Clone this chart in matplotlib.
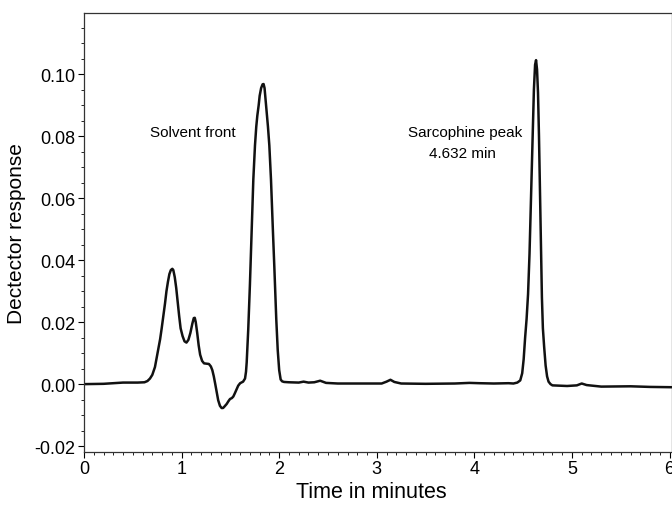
import matplotlib
matplotlib.use("Agg")
import matplotlib.pyplot as plt
from matplotlib.ticker import MultipleLocator, FuncFormatter

plt.rcParams['font.family'] = ['Liberation Sans', 'DejaVu Sans']

# Chromatogram trace (time in minutes, detector response)
time_min = [
    0.00, 0.20, 0.40, 0.55, 0.62, 0.65, 0.676, 0.70, 0.727, 0.745, 0.761, 0.78,
    0.796, 0.815, 0.83, 0.845, 0.86, 0.875, 0.89, 0.905, 0.915, 0.93, 0.945,
    0.96, 0.975, 0.99, 1.01, 1.03, 1.05, 1.07, 1.09, 1.11, 1.125, 1.135, 1.145,
    1.16, 1.175, 1.19, 1.21, 1.23, 1.26, 1.28, 1.30, 1.315, 1.33, 1.345, 1.36,
    1.375, 1.393, 1.41, 1.425, 1.44, 1.462, 1.48, 1.496, 1.515, 1.53, 1.545,
    1.564, 1.58, 1.60, 1.63, 1.65, 1.66, 1.667, 1.675, 1.683, 1.692, 1.70, 1.71,
    1.72, 1.735, 1.752, 1.765, 1.776, 1.79, 1.80, 1.815, 1.83, 1.84, 1.85, 1.86,
    1.872, 1.885, 1.899, 1.916, 1.925, 1.935, 1.95, 1.96, 1.97, 1.985, 2.00,
    2.015, 2.03, 2.05, 2.10, 2.20, 2.25, 2.30, 2.36, 2.42, 2.48, 2.60, 2.80,
    3.05, 3.10, 3.14, 3.18, 3.25, 3.50, 3.80, 3.95, 4.05, 4.20, 4.35, 4.40,
    4.44, 4.47, 4.49, 4.505, 4.52, 4.535, 4.55, 4.565, 4.58, 4.595, 4.61, 4.622,
    4.632, 4.642, 4.652, 4.662, 4.672, 4.682, 4.692, 4.702, 4.715, 4.73, 4.745,
    4.76, 4.78, 4.80, 4.95, 5.05, 5.10, 5.15, 5.30, 5.60, 5.80, 6.00, 6.03,
]
response = [
    0.0000, 0.0001, 0.0005, 0.0005, 0.0006, 0.0010, 0.0018, 0.0030, 0.0055,
    0.0085, 0.0113, 0.0145, 0.0180, 0.0225, 0.0260, 0.0300, 0.0330, 0.0355,
    0.0368, 0.0372, 0.0368, 0.0345, 0.0310, 0.0265, 0.0220, 0.0180, 0.0155,
    0.0138, 0.0134, 0.0143, 0.0165, 0.0195, 0.0213, 0.0214, 0.0200, 0.0165,
    0.0125, 0.0095, 0.0075, 0.0067, 0.0066, 0.0065, 0.0057, 0.0045, 0.0025,
    0.0000, -0.0027, -0.0052, -0.0070, -0.0077, -0.0077, -0.0072, -0.0064,
    -0.0055, -0.0048, -0.0045, -0.0040, -0.0030, -0.0016, -0.0005, 0.0003,
    0.0008, 0.0018, 0.0040, 0.0070, 0.0120, 0.0177, 0.0250, 0.0320, 0.0420,
    0.0520, 0.0660, 0.0770, 0.0830, 0.0866, 0.0900, 0.0930, 0.0955, 0.0967,
    0.0968, 0.0955, 0.0920, 0.0876, 0.0830, 0.0770, 0.0660, 0.0580, 0.0500,
    0.0380, 0.0290, 0.0210, 0.0110, 0.0045, 0.0015, 0.0009, 0.0007, 0.0006,
    0.0005, 0.0008, 0.0005, 0.0006, 0.0011, 0.0004, 0.0002, 0.0002, 0.0002,
    0.0008, 0.0014, 0.0007, 0.0002, 0.0001, 0.0002, 0.0004, 0.0003, 0.0002,
    0.0003, 0.0002, 0.0005, 0.0012, 0.0035, 0.0080, 0.0150, 0.0210, 0.0290,
    0.0420, 0.0600, 0.0790, 0.0950, 0.1030, 0.1045, 0.1015, 0.0940, 0.0800,
    0.0620, 0.0430, 0.0280, 0.0180, 0.0120, 0.0060, 0.0025, 0.0008, 0.0000,
    -0.0004, -0.0006, -0.0004, 0.0002, -0.0003, -0.0008, -0.0007, -0.0009,
    -0.0010, -0.0010,
]

annotations = [
    ("Solvent front", 1.12, 0.0812),
    ("Sarcophine peak", 3.91, 0.0812),
    ("4.632 min", 3.88, 0.0745),
]

fig = plt.figure(figsize=(6.72, 5.06), dpi=100)
ax = fig.add_axes([0.125, 0.1053, 0.875, 0.8670])
ax.plot(time_min, response, color="#111111", linewidth=1.8,
        solid_joinstyle="round", solid_capstyle="round")

ax.set_xlim(0, 6.025)
ax.set_ylim(-0.0218, 0.1197)
ax.xaxis.set_major_locator(MultipleLocator(1))
ax.xaxis.set_minor_locator(MultipleLocator(0.1))
ax.yaxis.set_major_locator(MultipleLocator(0.02))
ax.yaxis.set_minor_locator(MultipleLocator(0.005))
ax.xaxis.set_major_formatter(FuncFormatter(lambda v, p: f"{v:.0f}"))
ax.yaxis.set_major_formatter(FuncFormatter(lambda v, p: f"{v:.2f}".replace("-0.00", "0.00")))
ax.tick_params(axis="both", which="major", direction="out", length=4, width=0.8,
               labelsize=13, pad=2)
ax.tick_params(axis="both", which="minor", direction="out", length=2, width=0.6)
ax.tick_params(top=False, right=False)
for s in ax.spines.values():
    s.set_linewidth(0.9)
    s.set_color("#333333")

ax.set_xlabel("Time in minutes", fontsize=15.5, va="top")
ax.xaxis.set_label_coords(0.488, -0.067)
ax.set_ylabel("Dectector response", fontsize=15, labelpad=6)

for text, x, y in annotations:
    ax.text(x, y, text, ha="center", va="center", fontsize=11)

fig.savefig("out.png", dpi=100)
